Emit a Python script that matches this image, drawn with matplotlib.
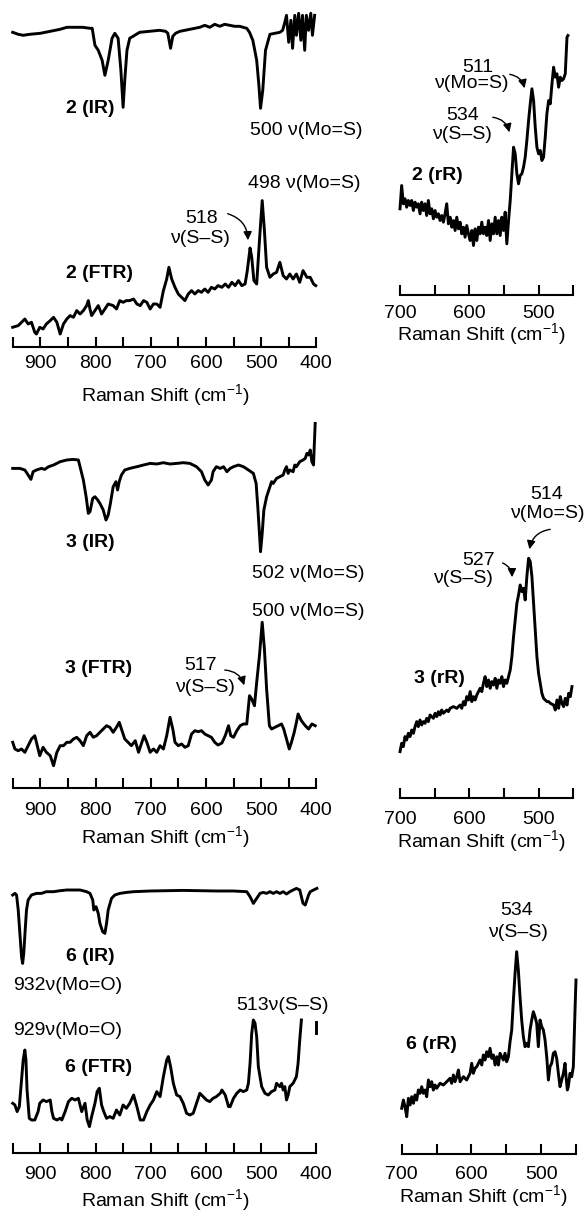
import matplotlib
matplotlib.use("Agg")
import matplotlib.pyplot as plt
from matplotlib.patches import FancyArrowPatch
import numpy as np

plt.rcParams['font.family'] = ['Liberation Sans', 'DejaVu Sans']
plt.rcParams['mathtext.fontset'] = 'custom'
plt.rcParams['mathtext.rm'] = 'Liberation Sans'
plt.rcParams['mathtext.it'] = 'Liberation Sans:italic'
plt.rcParams['mathtext.bf'] = 'Liberation Sans:bold'

# ---- spectra (wavenumber, arbitrary intensity) ----
ir2_wn = [950, 940, 931, 919, 900, 882, 864, 852, 837, 823, 810, 806, 801, 795, 788, 783, 777, 770, 765, 759,
          754, 750, 747, 743, 738, 729, 720, 702, 684, 673, 669, 664, 660, 655, 647, 629, 611, 602, 593, 584,
          575, 566, 557, 548, 539, 526, 521, 515, 508, 504, 501, 497, 492, 484, 475, 466, 461, 457, 454, 450,
          446, 443, 439, 436, 432, 428, 425, 421, 418, 414, 410, 407, 403]
ir2_int = [1, -1, -2, -1, 0, 2, 4, 6, 6, 6, 5, 5, -12, -17, -27, -42, -27, -5, 0, -5,
           -37, -74, -47, -17, -5, -2, 1, 2, 3, 2, 0, -15, -3, 0, 2, 4, 6, 8, 6, 9,
           7, 9, 8, 7, 7, 5, 1, -7, -27, -52, -75, -57, -17, -1, 0, 1, 3, 11, 18, -9,
           13, -15, 18, -2, 20, -7, 18, -17, 18, 3, 20, -2, 18]

ftr2_wn = [950, 940, 934, 928, 922, 916, 910, 907, 901, 895, 889, 882, 876, 870, 864, 858, 852, 846, 840, 834,
           828, 822, 816, 813, 810, 807, 801, 795, 789, 783, 777, 768, 762, 756, 750, 744, 738, 731, 725, 719,
           713, 707, 701, 695, 689, 683, 677, 671, 667, 662, 656, 650, 644, 638, 632, 626, 620, 614, 608, 602,
           596, 590, 584, 578, 571, 565, 559, 553, 547, 541, 535, 529, 525, 520, 517, 513, 508, 503, 498, 494,
           490, 484, 478, 472, 466, 460, 454, 448, 442, 436, 430, 424, 417, 411, 405, 401]
ftr2_int = [20, 21.7, 25, 28.3, 23.3, 25, 15, 13.3, 20, 18.3, 23.3, 26.7, 30, 25, 13.3, 23.3, 28.3, 31.7, 30, 36.7,
            33.3, 36.7, 41.7, 46.7, 38.3, 31.7, 36.7, 41.7, 33.3, 38.3, 43.3, 41.7, 38.3, 46.7, 45, 46.7, 46.7, 48.3, 43.3, 41.7,
            46.7, 45, 38.3, 43.3, 43.3, 40, 56.7, 68.3, 80, 68.3, 60, 53.3, 50, 46.7, 53.3, 56.7, 53.3, 56.7, 55, 58.3,
            55, 60, 58.3, 61.7, 60, 63.3, 60, 65, 61.7, 66.7, 61.7, 63.3, 76.7, 99.3, 90, 66.7, 63.3, 106.7, 146.7, 116.7,
            80, 70, 73.3, 75, 85, 71.7, 68.3, 73.3, 68.3, 73.3, 65, 76.7, 70, 70, 63.3, 61.7]

rr2_wn = [700.0, 697.6, 695.2, 692.8, 690.4, 688.0, 685.5, 683.1, 680.7, 678.3,
          675.9, 673.5, 671.1, 668.7, 666.3, 663.9, 661.5, 659.1, 656.6, 654.2,
          651.8, 649.4, 647.0, 644.6, 642.2, 639.8, 637.4, 635.0, 632.6, 630.2,
          627.7, 625.3, 622.9, 620.5, 618.1, 615.7, 613.3, 610.9, 608.5, 606.1,
          603.7, 601.2, 598.8, 596.4, 594.0, 591.6, 589.2, 586.8, 584.4, 582.0,
          579.6, 577.2, 574.8, 572.3, 569.9, 567.5, 565.1, 562.7, 560.3, 557.9,
          555.5, 553.1, 550.7, 548.3, 545.9, 543.4, 541.0, 538.6, 536.2, 533.8,
          531.4, 529.0, 526.6, 524.2, 521.8, 519.4, 517.0, 514.5, 512.1, 509.7,
          507.3, 504.9, 502.5, 500.1, 497.7, 495.3, 492.9, 490.5, 488.1, 485.6,
          483.2, 480.8, 478.4, 476.0, 473.6, 471.2, 468.8, 466.4, 464.0, 461.6,
          459.1, 457.7]
rr2_int = [85.7, 109, 90.7, 95.7, 87.3, 94, 89, 94, 84, 92.3,
           87.3, 90.7, 80.7, 92.3, 84, 90.7, 79, 94, 80.7, 85.7,
           75.7, 84, 77.3, 80.7, 74, 79, 72.3, 80.7, 90.7, 70.7,
           77.3, 67.3, 74, 64, 77.3, 65.7, 72.3, 60.7, 67.3, 57.3,
           69, 60.7, 54, 64, 49, 65.7, 54, 67.3, 60.7, 72.3,
           60.7, 67.3, 59, 74, 54, 70.7, 60.7, 77.3, 60.7, 74,
           59, 77.3, 64, 82.3, 50.7, 74, 94, 120.7, 147.3, 140.7,
           120.7, 110.7, 119, 120.7, 127.3, 137.3, 154, 174, 190.7, 205.7,
           194, 167.3, 147.3, 140.7, 144, 134, 137.3, 157.3, 180.7, 194,
           190.7, 210.7, 227.3, 217.3, 220.7, 207.3, 217.3, 214, 215.7, 220.7,
           257.3, 259]

ir3_wn = [950, 937, 928, 922, 917, 913, 907, 898, 892, 885, 876, 864, 852, 840, 831, 828, 822, 817, 813, 810,
          805, 801, 796, 792, 786, 781, 777, 773, 768, 763, 760, 757, 753, 747, 738, 725, 713, 701, 689, 677,
          665, 653, 641, 629, 617, 608, 602, 596, 590, 587, 581, 574, 568, 562, 556, 550, 541, 532, 523, 514,
          509, 506, 503, 501, 498, 495, 490, 484, 481, 478, 472, 466, 460, 457, 454, 451, 448, 442, 439, 436,
          430, 424, 420, 417, 414, 411, 408, 405, 404, 402]
ir3_int = [-1.7, -1.7, -3.3, -8.3, -12.7, -5, -3.3, -1.7, -2.7, 0, 1.7, 5, 6.7, 7.3, 6.7, 0, -13.3, -30, -46.7, -45,
           -31.7, -30, -33.3, -36.7, -43.3, -53.3, -48.3, -36.7, -20, -15, -23.3, -15, -8.3, -3.3, -1.7, 0, 1.7, 3.3, 2.7, 4,
           2.7, 3.3, 4, 3.3, 0, -5, -13.3, -18.3, -13.3, -5, 0, -1.7, 0, -5, -1.7, 0, 1.7, 0, -3.3, -6.7,
           -16.7, -40, -66.7, -85, -66.7, -43.3, -30, -20, -15, -16.7, -11.7, -10, -8.3, -3.3, 0, -6.7, -3.3, -5, 1.7, 0,
           5, 6.7, 8.3, 13.3, 11.7, 16.7, 5, 1.7, 16.7, 43.3]

ftr3_wn = [950, 946, 940, 934, 928, 922, 916, 910, 907, 901, 895, 889, 882, 876, 870, 864, 858, 852, 846, 840,
           834, 828, 822, 816, 810, 804, 798, 792, 786, 780, 774, 768, 762, 757, 753, 747, 741, 735, 728, 722,
           716, 712, 707, 701, 695, 689, 683, 677, 671, 665, 660, 656, 650, 644, 638, 632, 626, 620, 614, 608,
           602, 596, 590, 584, 578, 571, 565, 559, 555, 550, 544, 538, 532, 526, 521, 517, 512, 508, 503, 498,
           494, 490, 485, 481, 475, 469, 463, 459, 454, 449, 445, 440, 436, 433, 427, 420, 414, 408, 402]
ftr3_int = [45.7, 39, 37.3, 39, 35.7, 42.3, 49, 52.3, 45.7, 32.3, 40.7, 35.7, 32.3, 22.3, 35.7, 42.3, 42.3, 45.7, 45.7, 49,
            50.7, 47.3, 42.3, 52.3, 55.7, 50.7, 52.3, 55.7, 59, 62.3, 60.7, 55.7, 60.7, 65.7, 59, 49, 45.7, 42.3, 47.3, 35.7,
            45.7, 52.3, 45.7, 35.7, 39, 35.7, 42.3, 39, 52.3, 70.7, 59, 45.7, 42.3, 44, 40.7, 42.3, 54, 57.3, 56.3, 57.3,
            54, 52.3, 50.7, 45.7, 43, 45, 52.3, 62.3, 52.3, 50.7, 57.3, 62.3, 64, 64, 92.3, 89, 82.3, 105.7, 132.3, 165.7,
            139, 99, 62.3, 59, 60.7, 62.3, 64, 59, 49, 39, 45.7, 55.7, 65.7, 74, 67.3, 62.3, 59, 64, 62.3]

rr3_wn = [700.0, 697.6, 695.2, 692.8, 690.4, 688.0, 685.5, 683.1, 680.7, 678.3,
          675.9, 673.5, 671.1, 668.7, 666.3, 663.9, 661.5, 659.1, 656.6, 651.8,
          649.4, 647.0, 644.6, 642.2, 639.8, 637.4, 632.6, 630.2, 627.7, 622.9,
          618.1, 613.3, 610.9, 608.5, 606.1, 603.7, 601.2, 598.8, 596.4, 594.0,
          591.6, 589.2, 586.8, 584.4, 582.0, 579.6, 577.2, 574.8, 572.3, 569.9,
          567.5, 565.1, 562.7, 560.3, 557.9, 555.5, 553.1, 550.7, 548.3, 545.9,
          543.4, 541.0, 538.6, 536.2, 533.8, 531.4, 529.0, 526.6, 524.2, 521.8,
          519.4, 517.0, 514.5, 512.1, 509.7, 507.3, 504.9, 502.5, 500.1, 497.7,
          495.3, 492.9, 490.5, 488.1, 485.6, 483.2, 478.4, 476.0, 473.6, 471.2,
          468.8, 466.4, 464.0, 461.6, 459.1, 456.7, 454.3, 451.9]
rr3_int = [46.7, 55, 51.7, 61.7, 58.3, 65, 61.7, 68.3, 65, 71.7,
           76.7, 71.7, 78.3, 73.3, 76.7, 75, 80, 76.7, 83.3, 80,
           85, 81.7, 86.7, 83.3, 88.3, 85, 88.3, 86.7, 90, 91.7,
           90, 93.3, 90, 96.7, 93.3, 101.7, 98.3, 106.7, 96.7, 101.7,
           98.3, 103.3, 106.7, 110, 106.7, 115, 121.7, 111.7, 118.3, 110,
           116.7, 113.3, 120, 110, 118.3, 115, 121.7, 111.7, 118.3, 115,
           121.7, 128.3, 141.7, 161.7, 178.3, 195, 203.3, 213.3, 206.7, 210,
           198.3, 221.7, 240, 236.7, 221.7, 195, 168.3, 141.7, 125, 115,
           105, 100, 98.3, 96.7, 96.7, 95, 93.3, 88.3, 98.3, 90,
           101.7, 95, 91.7, 100, 93.3, 105, 101.7, 111.7]

ir6_wn = [950, 946, 943, 940, 937, 934, 932, 930, 927, 925, 922, 916, 907, 898, 889, 876, 864, 852, 840, 828,
          816, 810, 805, 803, 799, 795, 792, 787, 783, 780, 777, 771, 765, 756, 744, 731, 701, 671, 641, 611,
          581, 550, 526, 520, 514, 508, 502, 496, 490, 484, 478, 472, 466, 460, 454, 448, 442, 436, 430, 427,
          424, 420, 417, 414, 411, 405, 399]
ir6_int = [-3.3, -1.7, -3.3, -18.3, -41.7, -65, -71.7, -61.7, -35, -18.3, -8.3, -3.3, -1.7, -1.7, 0, 0, 1, 1.7, 1.7, 1.7,
           0, -1.7, -8.3, -18.3, -15, -21.7, -31.7, -40, -41.7, -31.7, -18.3, -6.7, -3.3, -1.7, -0.7, 0, 0.7, 1, 1.3, 1,
           0.7, 0.7, 0, -5, -11.7, -6.7, -1.7, -0.7, -1.7, 0, -1.7, 0, -1.7, 0, -2.3, 0, 1.7, 3.3, 1.7, -5,
           -11.7, -13.3, -8.3, -3.3, 0, 1.7, 3.3]

ftr6_wn = [950, 946, 942, 938, 934, 931, 928, 926, 924, 920, 916, 910, 904, 901, 895, 889, 882, 879, 876, 870,
           864, 861, 855, 849, 843, 837, 831, 825, 819, 815, 811, 807, 801, 797, 793, 789, 785, 780, 774, 768,
           762, 756, 750, 744, 738, 731, 725, 719, 713, 707, 701, 695, 689, 683, 677, 671, 668, 664, 659, 653,
           647, 641, 635, 629, 623, 617, 611, 605, 599, 593, 587, 581, 574, 571, 565, 559, 556, 550, 544, 538,
           532, 526, 523, 520, 517, 514, 511, 508, 505, 499, 493, 487, 481, 475, 472, 466, 463, 460, 457, 454,
           451, 448, 442, 436, 433, 430, 427]
ftr6_int = [50, 48.3, 41.7, 46.7, 73.3, 93.3, 103.3, 93.3, 63.3, 35, 33.3, 33.3, 41.7, 50, 53.3, 51.7, 53.3, 41.7, 35, 33.3,
            35, 33.3, 41.7, 51.7, 55, 53.3, 55, 41.7, 50, 33.3, 26.7, 36.7, 50, 61.7, 65, 48.3, 41.7, 35, 36.7, 35,
            43.3, 38.3, 48.3, 45, 50, 58.3, 46.7, 33.3, 33.3, 41.7, 48.3, 53.3, 61.7, 56.7, 76.7, 93.3, 96.7, 86.7, 70, 58.3,
            56.7, 50, 40, 38.3, 40, 50, 60, 56.7, 53.3, 51.7, 55, 56.7, 60, 63.3, 58.3, 46.7, 46.7, 55, 60, 63.3,
            61.7, 63.3, 70, 90, 120, 133.3, 130, 116.7, 86.7, 66.7, 60, 58.3, 61.7, 63.3, 70, 66.7, 70, 63.3, 66.7, 53.3,
            58.3, 66.7, 70, 76.7, 90, 113.3, 133.3]
# short piece of the off-scale 6 (FTR) trace near 400
ftr6_end_wn = [400, 400]
ftr6_end_int = [120, 131]

rr6_wn = [700.0, 697.6, 695.2, 692.8, 690.4, 688.0, 685.6, 683.2, 680.8, 678.5,
          676.1, 673.7, 671.3, 668.9, 666.5, 664.1, 661.7, 659.3, 657.0, 654.6,
          652.2, 649.8, 645.0, 640.2, 635.4, 630.7, 628.3, 625.9, 623.5, 621.1,
          618.7, 616.3, 611.5, 606.8, 602.0, 599.6, 597.2, 594.8, 592.4, 587.6,
          585.2, 582.9, 580.5, 578.1, 575.7, 573.3, 570.9, 568.5, 566.1, 563.7,
          561.3, 559.0, 554.2, 551.8, 549.4, 547.0, 544.6, 542.2, 539.8, 537.4,
          535.1, 532.7, 530.3, 527.9, 525.5, 523.1, 520.7, 518.3, 515.9, 513.5,
          511.2, 508.8, 506.4, 504.0, 501.6, 499.2, 496.8, 494.4, 492.0, 489.6,
          487.3, 484.9, 482.5, 480.1, 477.7, 475.3, 472.9, 470.5, 468.1, 465.7,
          464.3, 462.4, 461.0, 458.6, 456.2, 453.8, 451.4, 450.0]
rr6_int = [45.7, 54, 47.3, 37.3, 55.7, 49, 57.3, 50.7, 59, 54,
           64, 60.7, 67.3, 60.7, 64, 57.3, 74, 67.3, 72.3, 64,
           69, 65.7, 70.7, 69, 72.3, 75.7, 70.7, 79, 72.3, 77.3,
           84, 72.3, 77.3, 74, 80.7, 90.7, 80.7, 85.7, 87.3, 94,
           89, 99, 94, 102.3, 97.3, 105.7, 95.7, 99, 89, 97.3,
           89, 100.7, 94, 100.7, 92.3, 97.3, 112.3, 124, 154, 180.7,
           202.3, 184, 157.3, 134, 117.3, 107.3, 110.7, 107.3, 124, 134,
           142.3, 137.3, 130.7, 107.3, 134, 127.3, 124, 114, 97.3, 74,
           87.3, 90.7, 100.7, 102.3, 95.7, 80.7, 67.3, 74, 80.7, 90.7,
           77.3, 64, 67.3, 80.7, 77.3, 87.3, 144, 174]

left_ticks = list(range(400, 951, 50))
left_labels = [str(t) if t % 100 == 0 else '' for t in left_ticks]
right_ticks = list(range(450, 701, 50))
right_labels = [str(t) if t % 100 == 0 else '' for t in right_ticks]
xlabel = 'Raman Shift (cm$^{\\mathregular{-1}}$)'

W, H = 584, 1212
FS = 14
fig = plt.figure(figsize=(W / 100, H / 100), dpi=100)


def panel(x0, x1, ybot, ytop, xlim, ticks, labels, pad):
    ax = fig.add_axes([x0 / W, 1 - ybot / H, (x1 - x0) / W, (ybot - ytop) / H])
    ax.set_xlim(*xlim)
    ax.set_ylim(0, ybot - ytop)
    for s in ['left', 'right', 'top']:
        ax.spines[s].set_visible(False)
    ax.spines['bottom'].set_linewidth(1.5)
    ax.set_yticks([])
    ax.set_xticks(ticks, labels)
    ax.tick_params(axis='x', direction='in', length=7, width=1.5, pad=pad, labelsize=FS)
    ax.patch.set_alpha(0)
    return ax


def trace(ax, wn, y, offset=0):
    ax.plot(wn, np.asarray(y) + offset, color='k', lw=2.1, solid_joinstyle='round', clip_on=False)


def txt(x, y, s, ha='center', bold=False):
    fig.text(x / W, 1 - y / H, s, ha=ha, va='baseline', fontsize=FS,
             fontweight='bold' if bold else 'normal')


def arrow(x0, y0, x1, y1, rad):
    fig.add_artist(FancyArrowPatch((x0 / W, 1 - y0 / H), (x1 / W, 1 - y1 / H),
                                   transform=fig.transFigure,
                                   connectionstyle=f'arc3,rad={rad}',
                                   arrowstyle='-|>,head_length=5,head_width=2.5',
                                   mutation_scale=1, lw=1.0, color='k'))


# compound 2
ax = panel(12.7, 316.3, 347.3, 0, (950, 400), left_ticks, left_labels, 5.5)
trace(ax, ir2_wn, ir2_int, 314)
trace(ax, ftr2_wn, ftr2_int)
txt(165, 401.3, xlabel)
ax = panel(400, 573.3, 294.5, 0, (700, 450), right_ticks, right_labels, 7.6)
trace(ax, rr2_wn, rr2_int)
txt(481, 340, xlabel)

# compound 3
ax = panel(12.7, 316.3, 788, 400, (950, 400), left_ticks, left_labels, 9.9)
trace(ax, ir3_wn, ir3_int, 321.3)
trace(ax, ftr3_wn, ftr3_int)
txt(165, 842.7, xlabel)
ax = panel(400, 573.3, 798.3, 400, (700, 450), right_ticks, right_labels, 8.9)
trace(ax, rr3_wn, rr3_int)
txt(481, 847, xlabel)

# compound 6
ax = panel(12.7, 316.3, 1153.3, 860, (950, 400), left_ticks, left_labels, 9.1)
trace(ax, ir6_wn, ir6_int, 261.6)
trace(ax, ftr6_wn, ftr6_int)
trace(ax, ftr6_end_wn, ftr6_end_int)
txt(165, 1206.5, xlabel)
ax = panel(401.7, 576, 1154, 860, (700, 450), right_ticks, right_labels, 8.6)
trace(ax, rr6_wn, rr6_int)
txt(483, 1201.7, xlabel)

# sample labels
txt(90, 113.3, '2 (IR)', bold=True)
txt(99, 278.3, '2 (FTR)', bold=True)
txt(437, 180, '2 (rR)', bold=True)
txt(90, 546.7, '3 (IR)', bold=True)
txt(99, 673.3, '3 (FTR)', bold=True)
txt(439, 683.3, '3 (rR)', bold=True)
txt(90, 960.7, '6 (IR)', bold=True)
txt(99, 1071.7, '6 (FTR)', bold=True)
txt(431, 1049, '6 (rR)', bold=True)

# band assignments
txt(250, 135, '500 ν(Mo=S)', ha='left')
txt(248, 188.3, '498 ν(Mo=S)', ha='left')
txt(202, 223.3, '518')
txt(200, 243, 'ν(S–S)')
arrow(225, 213, 248, 243, -0.4)

txt(478, 72.3, '511')
txt(471, 88.3, 'ν(Mo=S)')
txt(463, 120, '534')
txt(462, 139, 'ν(S–S)')
arrow(507, 74, 525, 91, -0.4)
arrow(490, 117, 510, 135, -0.4)

txt(252, 578.3, '502 ν(Mo=S)', ha='left')
txt(252, 616, '500 ν(Mo=S)', ha='left')
txt(201, 670, '517')
txt(205, 692, 'ν(S–S)')
arrow(222, 670, 245, 688, -0.4)

txt(547, 499.3, '514')
txt(547, 518, 'ν(Mo=S)')
txt(479, 565, '527')
txt(463, 583.3, 'ν(S–S)')
arrow(553, 529, 529, 552, 0.4)
arrow(500, 562, 512, 580, -0.4)

txt(12.7, 990, '932ν(Mo=O)', ha='left')
txt(12.7, 1035, '929ν(Mo=O)', ha='left')
txt(236.7, 1010, '513ν(S–S)', ha='left')
txt(517, 915, '534')
txt(518, 937, 'ν(S–S)')

fig.savefig('out.png', dpi=100)
